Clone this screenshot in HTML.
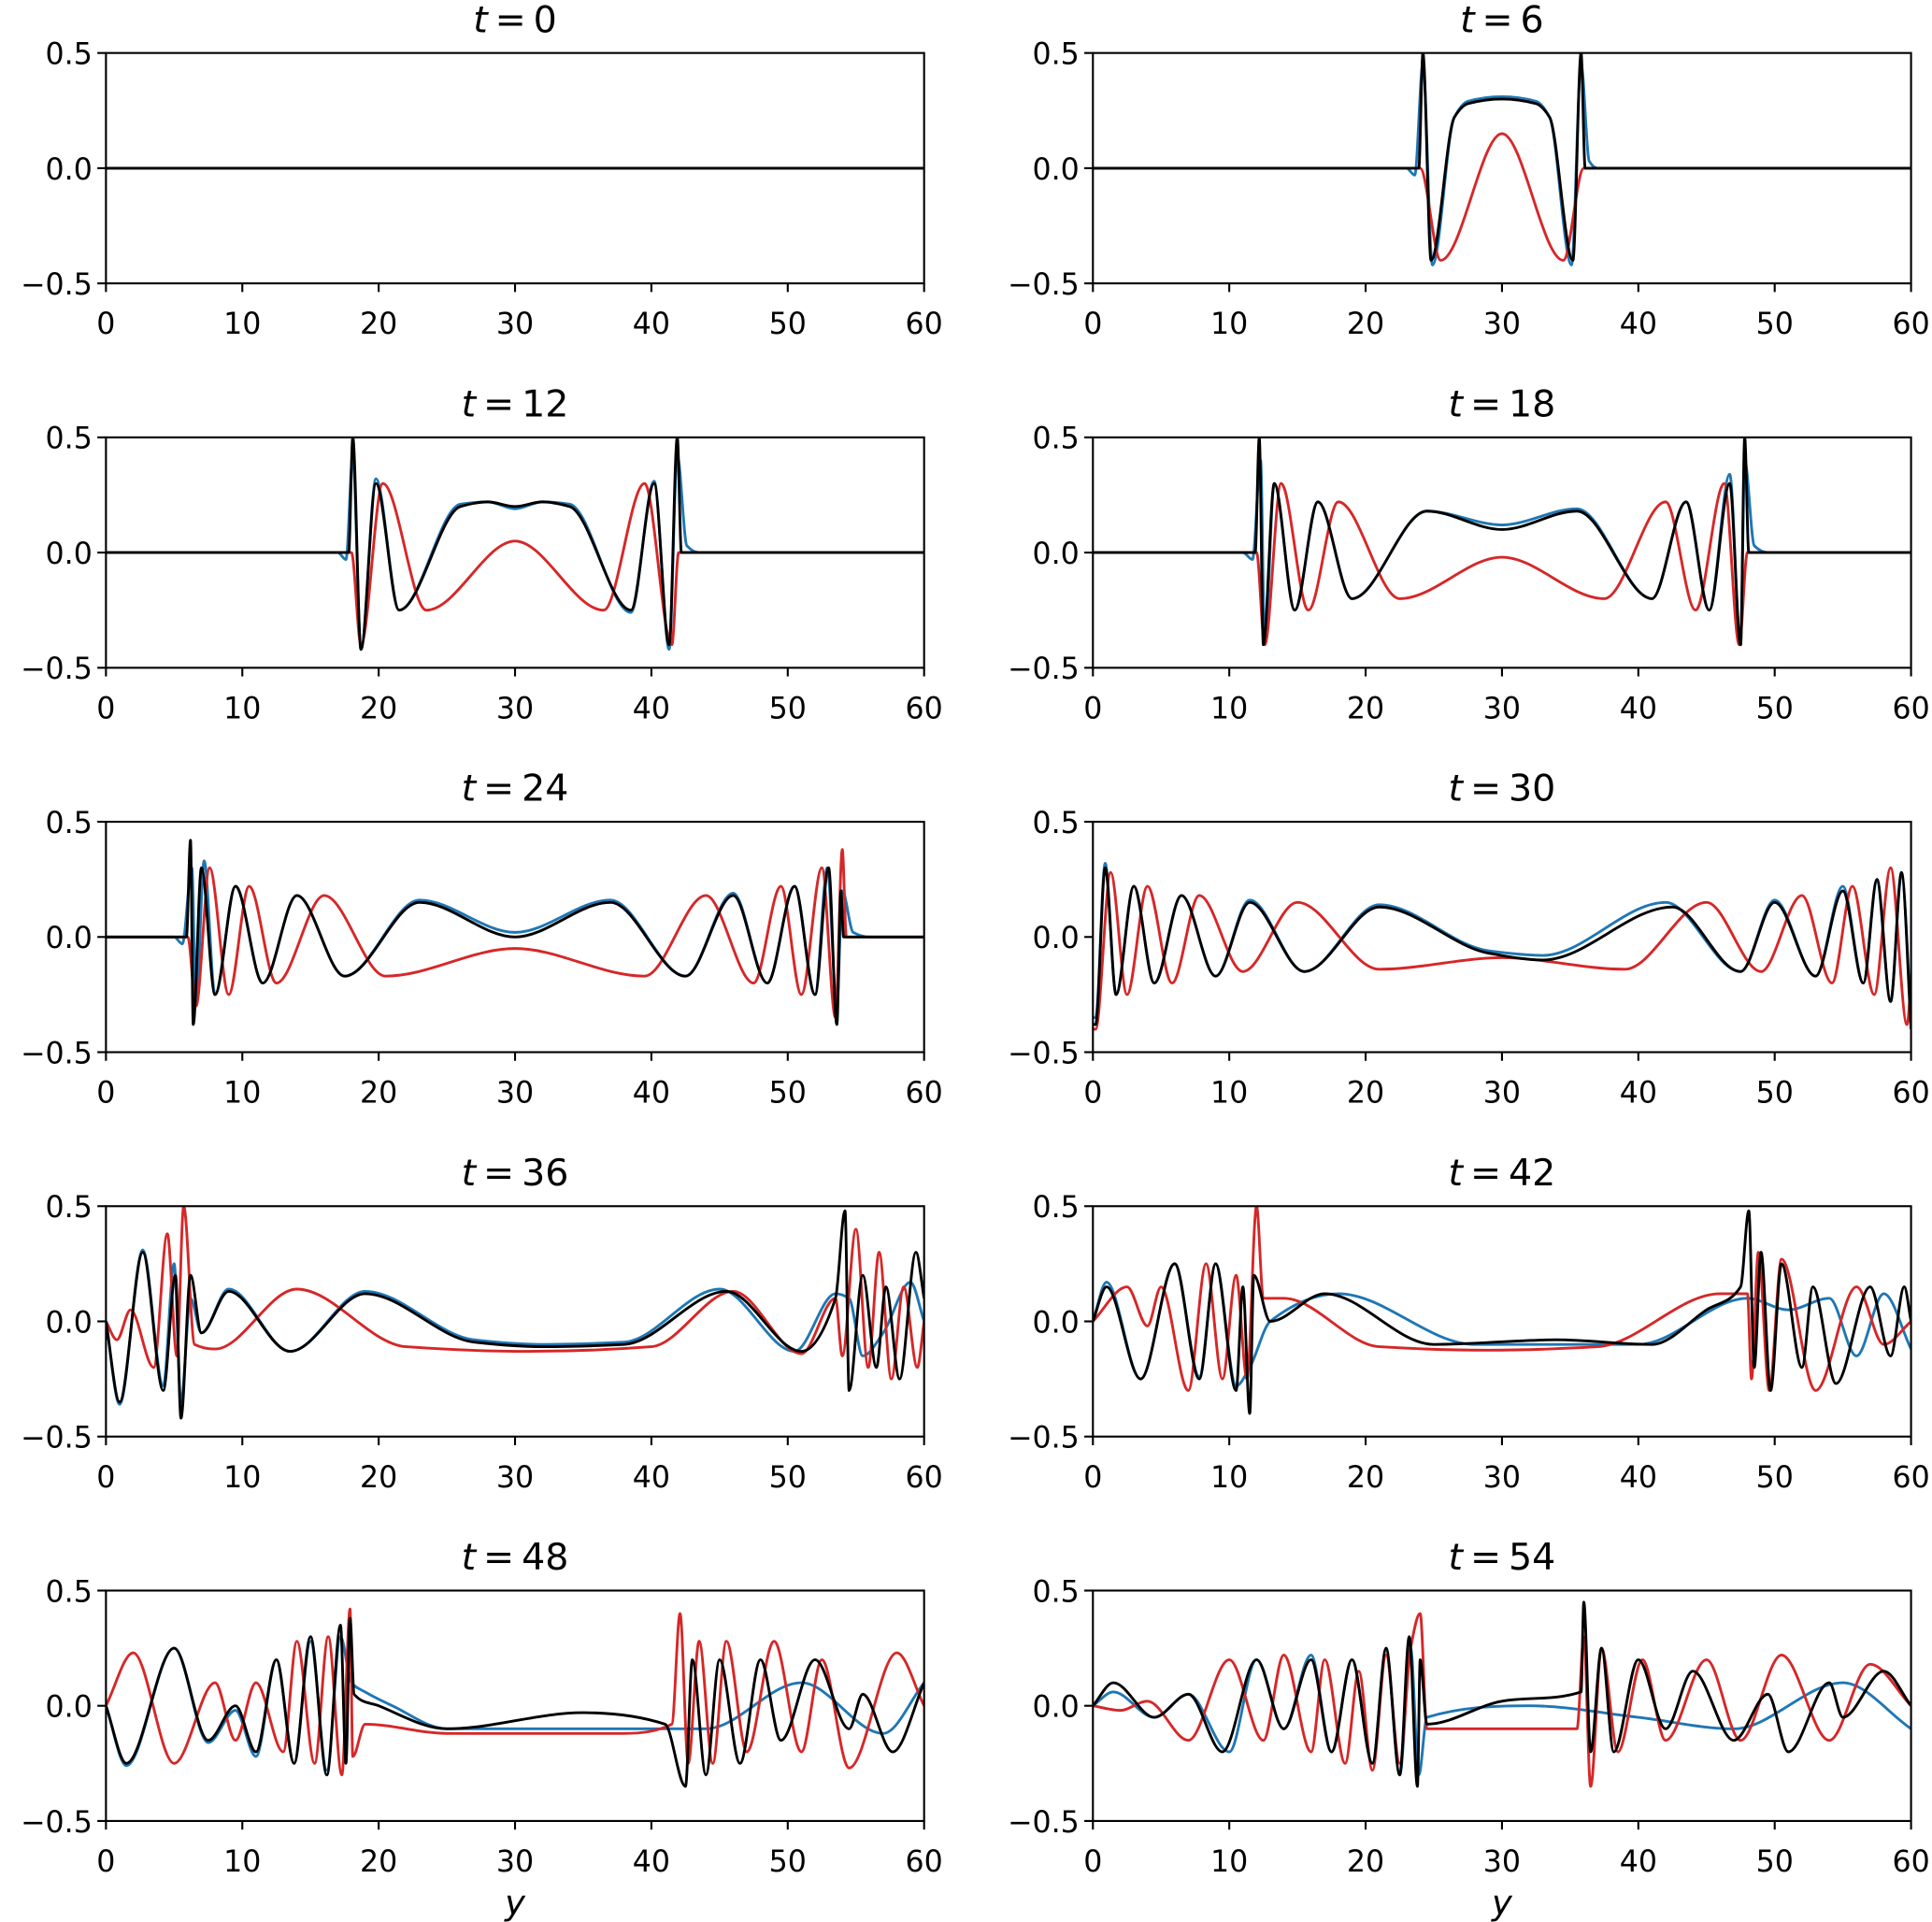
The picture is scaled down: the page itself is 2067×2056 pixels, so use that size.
<!DOCTYPE html>
<html><head><meta charset="utf-8"><style>
html,body{margin:0;padding:0;background:#fff}
svg{display:block}
text{font-family:"DejaVu Sans","Liberation Sans",sans-serif;fill:#000}
</style></head><body>
<svg id="fig" width="2067" height="2056" viewBox="0 0 1568 1560" preserveAspectRatio="none" xmlns="http://www.w3.org/2000/svg"></svg>
<script>
// ---- data (x in y-units, value) ----
const titles = ["0","6","12","18","24","30","36","42","48","54"];
const xTicks = [0,10,20,30,40,50,60];
const yTicks = [-0.5,0,0.5];
const yTickLabels = ["\u22120.5","0.0","0.5"];

const black0 = [[0,0],[60,0]];
const red0 = [[0,0],[60,0]];
const blue0 = [[0,0],[60,0]];

const black6 = [[0,0],[23.9,0],[24.2,0.5],[24.8,-0.4],[26.5,0.22],[27.5,0.28],[30,0.3],[32.5,0.28],[33.5,0.22],[35.2,-0.4],[35.8,0.5],[36.1,0],[60,0]];
const blue6 = [[0,0],[23,0],[23.6,-0.03],[24.2,0.45],[24.9,-0.42],[26.5,0.22],[27.5,0.29],[30,0.31],[32.5,0.29],[33.5,0.22],[35.1,-0.42],[35.8,0.45],[36.4,0.03],[37,0],[60,0]];
const red6 = [[0,0],[24,0],[25.5,-0.4],[30,0.15],[34.5,-0.4],[36,0],[60,0]];

const black12 = [[0,0],[17.8,0],[18.1,0.5],[18.7,-0.42],[19.8,0.3],[21.5,-0.25],[26,0.2],[28,0.22],[30,0.2],[32,0.22],[34,0.2],[38.5,-0.25],[40.2,0.3],[41.3,-0.4],[41.9,0.5],[42.2,0],[60,0]];
const blue12 = [[0,0],[17,0],[17.6,-0.03],[18.1,0.42],[18.7,-0.42],[19.8,0.32],[21.5,-0.25],[26,0.21],[28,0.22],[30,0.19],[32,0.22],[34,0.21],[38.5,-0.26],[40.2,0.31],[41.3,-0.42],[41.9,0.42],[42.6,0.03],[43.5,0],[60,0]];
const red12 = [[0,0],[18,0],[18.7,-0.4],[20.3,0.3],[23.5,-0.25],[30,0.05],[36.5,-0.25],[39.5,0.3],[41.5,-0.4],[42,0],[60,0]];

const black18 = [[0,0],[11.9,0],[12.2,0.5],[12.5,-0.4],[13.3,0.3],[14.8,-0.25],[16.5,0.22],[19,-0.2],[24.5,0.18],[30,0.1],[35.5,0.18],[41,-0.2],[43.5,0.22],[45.2,-0.25],[46.7,0.3],[47.5,-0.4],[47.8,0.5],[48.1,0],[60,0]];
const blue18 = [[0,0],[11,0],[11.7,-0.03],[12.3,0.4],[12.6,-0.4],[13.3,0.3],[14.8,-0.25],[16.5,0.22],[19,-0.2],[24.5,0.18],[30,0.12],[35.5,0.19],[41,-0.2],[43.5,0.22],[45.2,-0.25],[46.7,0.34],[47.5,-0.4],[47.8,0.4],[48.5,0.03],[49.5,0],[60,0]];
const red18 = [[0,0],[12,0],[12.6,-0.4],[13.8,0.3],[15.8,-0.25],[18,0.22],[22.5,-0.2],[30,-0.02],[37.5,-0.2],[42,0.22],[44.2,-0.25],[46.3,0.3],[47.4,-0.4],[48,0],[60,0]];

const black24 = [[0,0],[5.9,0],[6.2,0.42],[6.4,-0.38],[7,0.3],[8,-0.25],[9.5,0.22],[11.5,-0.2],[14,0.18],[17.5,-0.17],[23,0.15],[30,0],[37,0.15],[42.5,-0.17],[46,0.18],[48.5,-0.2],[50.5,0.22],[52,-0.25],[53,0.3],[53.6,-0.38],[53.9,0.2],[54.1,0],[60,0]];
const blue24 = [[0,0],[5,0],[5.6,-0.03],[6.3,0.3],[6.6,-0.3],[7.2,0.33],[8,-0.25],[9.5,0.22],[11.5,-0.2],[14,0.18],[17.5,-0.17],[23,0.16],[30,0.02],[37,0.16],[42.5,-0.17],[46,0.19],[48.5,-0.2],[50.5,0.22],[52,-0.25],[52.9,0.3],[53.6,-0.3],[54,0.2],[54.8,0.02],[56,0],[60,0]];
const red24 = [[0,0],[6,0],[6.6,-0.3],[7.6,0.3],[9,-0.25],[10.5,0.22],[12.5,-0.2],[16,0.18],[20.5,-0.17],[30,-0.05],[39.5,-0.17],[44,0.18],[47.5,-0.2],[49.5,0.22],[51,-0.25],[52.5,0.3],[53.5,-0.35],[54,0.38],[54.3,0],[60,0]];

const black30 = [[0,-0.38],[0.2,-0.38],[0.9,0.3],[1.7,-0.25],[3,0.22],[4.5,-0.2],[6.5,0.18],[9,-0.17],[11.5,0.15],[15.5,-0.15],[21,0.13],[29,-0.07],[33,-0.1],[42.5,0.13],[47.5,-0.15],[50,0.15],[53,-0.17],[55,0.2],[56.5,-0.2],[57.5,0.25],[58.5,-0.28],[59.3,0.28],[60,-0.4]];
const blue30 = [[0,-0.35],[0.2,-0.35],[0.9,0.32],[1.7,-0.25],[3,0.22],[4.5,-0.2],[6.5,0.18],[9,-0.17],[11.5,0.16],[15.5,-0.15],[21,0.14],[29,-0.06],[33,-0.08],[42,0.15],[47.5,-0.15],[50,0.16],[53,-0.17],[55,0.22],[56.5,-0.2],[57.5,0.24],[58.5,-0.28],[59.3,0.27],[60,-0.35]];
const red30 = [[0,-0.4],[0.2,-0.4],[1.3,0.28],[2.5,-0.25],[4,0.22],[5.8,-0.2],[7.8,0.18],[11,-0.15],[15,0.15],[21,-0.14],[30,-0.09],[39,-0.14],[45,0.15],[49,-0.15],[52,0.18],[54.2,-0.2],[55.7,0.22],[57.3,-0.25],[58.5,0.3],[59.7,-0.38],[60,-0.2]];

const black36 = [[0,0],[1,-0.35],[2.7,0.3],[4.2,-0.3],[5.1,0.2],[5.5,-0.42],[6.2,0.2],[7,-0.05],[9,0.13],[13.5,-0.13],[19,0.12],[27,-0.09],[32,-0.11],[38,-0.1],[45.5,0.13],[51,-0.13],[53.5,0.1],[54.2,0.48],[54.5,-0.3],[55.5,0.2],[56.5,-0.2],[57.2,0.15],[58.2,-0.25],[59.4,0.3],[60,0.1]];
const blue36 = [[0,0],[1,-0.36],[2.7,0.31],[4.2,-0.28],[5,0.25],[5.5,-0.35],[6.2,0.1],[7,-0.05],[9,0.14],[13.5,-0.13],[19,0.13],[27,-0.08],[32,-0.1],[38,-0.09],[45,0.14],[50.5,-0.13],[53.5,0.12],[54.5,0.1],[55.5,-0.15],[57,-0.05],[59,0.17],[60,0]];
const red36 = [[0,0],[0.8,-0.08],[1.8,0.05],[3.5,-0.2],[4.5,0.38],[5.2,-0.15],[5.7,0.5],[6.5,-0.1],[8,-0.12],[14,0.14],[22,-0.11],[31,-0.13],[40,-0.11],[46,0.13],[51,-0.14],[53.5,0.1],[54,-0.15],[55,0.4],[55.9,-0.2],[56.7,0.3],[57.6,-0.25],[58.5,0.15],[59.5,-0.2],[60,0]];

const black42 = [[0,0],[1,0.15],[3.5,-0.25],[6,0.25],[7.8,-0.25],[9,0.25],[10.5,-0.3],[11,0.15],[11.5,-0.4],[11.8,0.2],[13,0],[17,0.12],[25,-0.1],[34,-0.08],[41,-0.1],[45,0.05],[47.5,0.15],[48.1,0.48],[48.5,-0.2],[49,0.3],[49.7,-0.3],[50.5,0.25],[52,-0.2],[52.8,0.15],[54.5,-0.27],[57,0.15],[58.5,-0.15],[59.5,0.15],[60,0]];
const blue42 = [[0,0],[1,0.17],[3.5,-0.25],[6,0.25],[7.8,-0.24],[9,0.25],[10.5,-0.28],[11.5,-0.2],[13,0],[18,0.12],[28,-0.1],[40,-0.1],[48,0.1],[51,0.05],[54,0.1],[56,-0.15],[58,0.12],[60,-0.12]];
const red42 = [[0,0],[2.5,0.15],[4,-0.02],[5,0.15],[7,-0.3],[8.3,0.25],[9.5,-0.25],[10.5,0.2],[11.3,-0.25],[12,0.5],[12.5,0.1],[14,0.1],[21,-0.11],[29,-0.125],[37,-0.11],[46,0.12],[48,0.12],[48.3,-0.25],[48.8,0.3],[49.6,-0.3],[50.5,0.27],[53,-0.3],[56,0.15],[58,-0.1],[60,0]];

const black48 = [[0,0],[1.5,-0.25],[5,0.25],[7.5,-0.15],[9.5,0],[11,-0.2],[12.5,0.2],[13.8,-0.25],[15,0.3],[16.2,-0.3],[17.2,0.35],[17.6,-0.25],[17.9,0.38],[18.2,0.05],[20,0],[25,-0.1],[35,-0.03],[41,-0.08],[42.5,-0.35],[43,0.2],[44,-0.3],[45,0.2],[46.5,-0.25],[48,0.2],[49.5,-0.15],[52,0.2],[54.5,-0.1],[55.5,0.05],[57.7,-0.2],[60,0.1]];
const blue48 = [[0,0],[1.5,-0.26],[5,0.25],[7.5,-0.16],[9.5,-0.02],[11,-0.22],[12.5,0.2],[13.8,-0.25],[15,0.28],[16.2,-0.28],[17.2,0.3],[18,0.1],[19,0.06],[21,0],[25,-0.1],[40,-0.1],[44,-0.1],[51,0.1],[57,-0.12],[60,0.1]];
const red48 = [[0,0],[2,0.23],[5,-0.25],[8,0.1],[9.5,-0.15],[11,0.1],[13,-0.2],[14,0.28],[15.3,-0.25],[16.3,0.3],[17.3,-0.3],[17.9,0.42],[18.1,-0.22],[19,-0.08],[25,-0.12],[38,-0.12],[41.5,-0.08],[42.1,0.4],[42.7,-0.25],[43.5,0.28],[44.5,-0.25],[45.5,0.28],[47,-0.2],[49,0.28],[51,-0.2],[52.5,0.2],[54.5,-0.27],[58,0.23],[60,0]];

const black54 = [[0,0],[1.5,0.1],[4.5,-0.05],[7,0.05],[9.5,-0.2],[12,0.2],[14,-0.1],[16,0.2],[17.5,-0.2],[19,0.2],[20.5,-0.25],[21.5,0.25],[22.5,-0.3],[23.2,0.3],[23.8,-0.35],[24,0.2],[24.5,-0.08],[30,0.02],[35.8,0.06],[36,0.45],[36.5,-0.2],[37.3,0.25],[38.2,-0.2],[40,0.2],[42,-0.1],[44,0.15],[47,-0.15],[49.5,0.05],[51,-0.2],[54,0.1],[55,-0.05],[58,0.15],[60,0]];
const blue54 = [[0,0],[1.5,0.06],[4.5,-0.05],[7,0.05],[10,-0.2],[12,0.2],[14,-0.1],[16,0.22],[17.5,-0.2],[19,0.2],[20.5,-0.25],[21.5,0.24],[22.5,-0.3],[23.3,0.25],[23.9,-0.3],[24.5,-0.05],[32,0.0],[40,-0.05],[47,-0.1],[55,0.1],[60,-0.1]];
const red54 = [[0,0],[2,-0.02],[4,0.02],[7,-0.15],[10,0.2],[12.5,-0.15],[14,0.22],[16,-0.2],[17,0.2],[18.5,-0.25],[19.5,0.15],[20.5,-0.28],[21.5,0.22],[22.5,-0.25],[23.3,0.25],[24,0.4],[24.5,-0.1],[35.5,-0.1],[36,0.3],[36.5,-0.35],[37.3,0.25],[38.5,-0.2],[40.3,0.2],[42,-0.15],[45,0.2],[47.5,-0.15],[50.5,0.22],[54,-0.15],[57,0.18],[60,0]];

const blacks = [black0,black6,black12,black18,black24,black30,black36,black42,black48,black54];
const blues = [blue0,blue6,blue12,blue18,blue24,blue30,blue36,blue42,blue48,blue54];
const reds = [red0,red6,red12,red18,red24,red30,red36,red42,red48,red54];

// ---- layout ----
const NS = "http://www.w3.org/2000/svg";
const svg = document.getElementById("fig");
const colX = [86, 887], W = 664;
const rowY = [43, 355, 667, 979, 1291], H = 187;

function mk(tag, attrs, parent){
  const e = document.createElementNS(NS, tag);
  for (const k in attrs) e.setAttribute(k, attrs[k]);
  (parent||svg).appendChild(e);
  return e;
}
// monotone cubic (Fritsch-Carlson) in pixel space, x increasing
function spline(pts){
  const n = pts.length;
  if (n < 2) return "";
  const dx = [], s = [];
  for (let i=0;i<n-1;i++){ dx.push(pts[i+1][0]-pts[i][0]); s.push((pts[i+1][1]-pts[i][1])/(dx[i]||1e-6)); }
  const m = new Array(n);
  m[0] = s[0]; m[n-1] = s[n-2];
  for (let i=1;i<n-1;i++){
    if (s[i-1]*s[i] <= 0) m[i] = 0;
    else {
      const w1 = 2*dx[i]+dx[i-1], w2 = dx[i]+2*dx[i-1];
      m[i] = (w1+w2)/(w1/s[i-1]+w2/s[i]);
    }
  }
  let d = "M" + pts[0][0].toFixed(2) + "," + pts[0][1].toFixed(2);
  for (let i=0;i<n-1;i++){
    const h = dx[i]/3;
    d += " C"+(pts[i][0]+h).toFixed(2)+","+(pts[i][1]+m[i]*h).toFixed(2)+" "+(pts[i+1][0]-h).toFixed(2)+","+(pts[i+1][1]-m[i+1]*h).toFixed(2)+" "+pts[i+1][0].toFixed(2)+","+pts[i+1][1].toFixed(2);
  }
  return d;
}

for (let p=0;p<10;p++){
  const col = p%2, row = Math.floor(p/2);
  const x0 = colX[col], y0 = rowY[row];
  const sx = v => x0 + v/60*W;
  const sy = v => y0 + H/2 - v/0.5*(H/2);
  const g = mk("g", {});
  
  

  const clip = mk("clipPath", {id:"c"+p}, g);
  mk("rect", {x:x0, y:y0, width:W, height:H}, clip);

  const title = mk("text", {x:x0+W/2, y:y0-17, "text-anchor":"middle", "font-size":"30"}, g);
  
  
  title.innerHTML = '<tspan font-style="italic">t</tspan>\u2009=\u2009' + titles[p];

  const series = [[blues[p],"#1f77b4","blue-series"],[reds[p],"#d62728","red-series"],[blacks[p],"#000","black-series"]];
  for (const [data,color,name] of series){
    const pts = data.map(d => [sx(d[0]), sy(d[1])]);
    const path = mk("path", {d:spline(pts), fill:"none", stroke:color, "stroke-width":"2.2", "clip-path":"url(#c"+p+")", "stroke-linejoin":"round"}, g);
    
    
  }

  const frame = mk("rect", {x:x0, y:y0, width:W, height:H, fill:"none", stroke:"#000", "stroke-width":"1.6"}, g);
  
  

  xTicks.forEach(v => {
    mk("line", {x1:sx(v), x2:sx(v), y1:y0+H, y2:y0+H+7, stroke:"#000", "stroke-width":"1.6"}, g);
    const t = mk("text", {x:sx(v), y:y0+H+41, "text-anchor":"middle", "font-size":"24"}, g);
    
    
    t.textContent = String(v);
  });
  yTicks.forEach((v,i) => {
    mk("line", {x1:x0-7, x2:x0, y1:sy(v), y2:sy(v), stroke:"#000", "stroke-width":"1.6"}, g);
    const t = mk("text", {x:x0-11, y:sy(v)+9, "text-anchor":"end", "font-size":"24"}, g);
    
    
    t.textContent = yTickLabels[i];
  });
  if (row === 4){
    const xl = mk("text", {x:x0+W/2, y:y0+H+76, "text-anchor":"middle", "font-size":"28", "font-style":"italic"}, g);
    
    
    xl.textContent = "y";
  }
}
</script>
</body></html>
